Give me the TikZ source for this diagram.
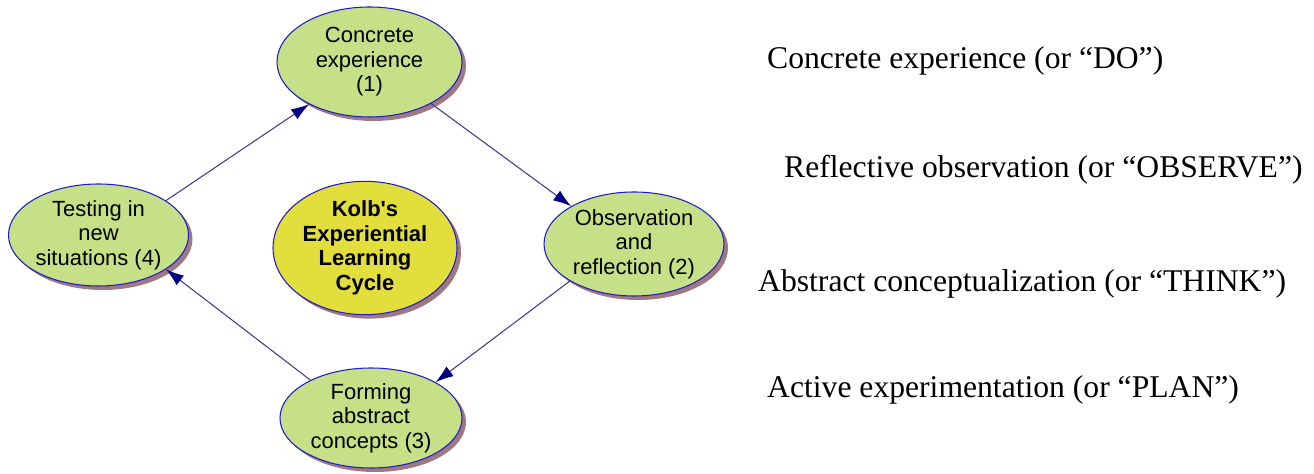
\documentclass[tikz,border=0pt]{standalone}
\usepackage{fontspec}
\setmainfont{Liberation Serif}
\setsansfont{Liberation Sans}
\usetikzlibrary{shapes,arrows.meta,positioning,shadows}
\definecolor{stagegreen}{RGB}{197,224,135}
\definecolor{hubyellow}{RGB}{226,222,60}
\definecolor{rimblue}{RGB}{30,30,200}
\definecolor{linknavy}{RGB}{60,60,150}
\definecolor{tipnavy}{RGB}{0,0,128}
\definecolor{shademauve}{RGB}{160,120,130}

\begin{document}
\begin{tikzpicture}[
    stage/.style={draw=rimblue,fill=stagegreen,ellipse,line width=0.6pt,inner sep=0pt,
        align=center,font=\sffamily\fontsize{12.5}{14}\selectfont,
        drop shadow={shadow xshift=0.08cm,shadow yshift=-0.08cm,fill=shademauve,opacity=1}},
    flow/.style={-{Latex[length=0.36cm,width=0.24cm,color=tipnavy]},draw=linknavy,line width=0.6pt},
    note/.style={anchor=base west,font=\fontsize{18}{22}\selectfont},
]
\useasboundingbox (0,0) rectangle (26.28,9.48);

% Cycle stages
\node[stage,minimum width=3.7cm,minimum height=2.2cm] (ce) at (7.39,8.24) {Concrete\\experience\\(1)};
\node[stage,minimum width=3.6cm,minimum height=2.08cm] (or) at (12.68,4.6) {Observation\\and\\reflection (2)};
\node[stage,minimum width=3.64cm,minimum height=2.0cm] (fa) at (7.42,1.12) {Forming\\abstract\\concepts (3)};
\node[stage,minimum width=3.6cm,minimum height=2.04cm] (tn) at (1.97,4.78) {Testing in\\new\\situations (4)};

% Centre
\node[stage,fill=hubyellow,minimum width=3.68cm,minimum height=2.32cm,
    font=\sffamily\bfseries\fontsize{12.5}{14}\selectfont] (kolb) at (7.3,4.52) {Kolb\textquotesingle s\\Experiential\\Learning\\Cycle};

% Connections
\draw[flow] (ce.-34) -- (or.149);
\draw[flow] (or.210.6) -- (fa.29.4);
\draw[flow] (fa.148.6) -- (tn.-27.3);
\draw[flow] (tn.27.6) -- (ce.215.8);

% Labels
\node[note] (do) at (15.22,8.1) {Concrete experience (or “DO”)};
\node[note] (observe) at (15.56,5.92) {Reflective observation (or “OBSERVE”)};
\node[note] (think) at (15.04,3.64) {Abstract conceptualization (or “THINK”)};
\node[note] (plan) at (15.22,1.52) {Active experimentation (or “PLAN”)};

\end{tikzpicture}
\end{document}
